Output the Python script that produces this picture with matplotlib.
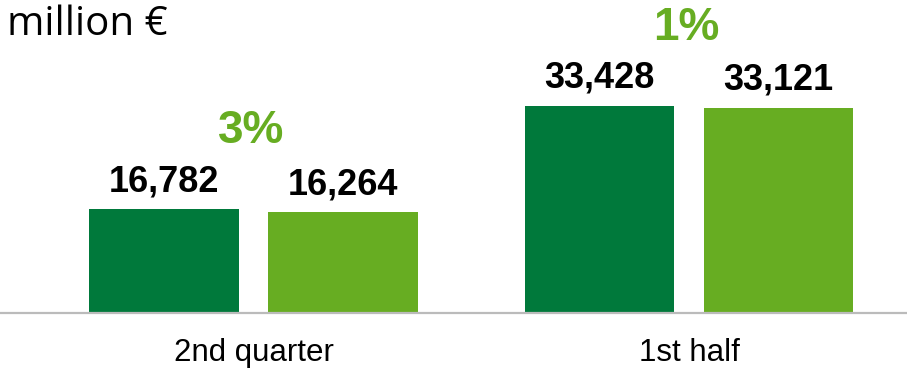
import matplotlib.pyplot as plt
import numpy as np

plt.rcParams['font.family'] = ['Liberation Sans', 'DejaVu Sans']

categories = ["2nd quarter", "1st half"]
current = [16782, 33428]
previous = [16264, 33121]
changes = ["3%", "1%"]

dark_green = "#00793B"
light_green = "#67AD22"

fig = plt.figure(figsize=(9.07, 3.71), dpi=100)
ax = fig.add_axes([0, 0.1563, 1, 0.8437])

x = np.arange(len(categories))
w = 0.344
off = 0.2055

ax.bar(x - off, current, w, color=dark_green)
ax.bar(x + off, previous, w, color=light_green)

for i in range(len(categories)):
    ax.annotate(f"{current[i]:,}", (x[i] - off, current[i]), xytext=(0, 13),
                textcoords="offset points", ha="center", va="baseline",
                fontsize=26, fontweight="bold")
    ax.annotate(f"{previous[i]:,}", (x[i] + off, previous[i]), xytext=(0, 13),
                textcoords="offset points", ha="center", va="baseline",
                fontsize=26, fontweight="bold")
    top = max(current[i], previous[i])
    ax.annotate(changes[i], (x[i], top), xytext=(-2, 47.5),
                textcoords="offset points", ha="center", va="baseline",
                fontsize=33, fontweight="bold", color=light_green)

ax.set_xlim(-0.582, 1.5006)
ax.set_ylim(0, 50550)
ax.axhline(0, color="#BBBBBB", linewidth=1.6, clip_on=False)

ax.set_xticks(x)
ax.set_xticklabels(categories, fontsize=22.5)
ax.tick_params(axis="x", length=0, pad=18)
ax.set_yticks([])
for s in ax.spines.values():
    s.set_visible(False)

fig.text(0.008, 0.905, "million €", fontsize=29, family=["Open Sans", "DejaVu Sans"],
         va="baseline", ha="left")

fig.savefig("out.png", dpi=100)
